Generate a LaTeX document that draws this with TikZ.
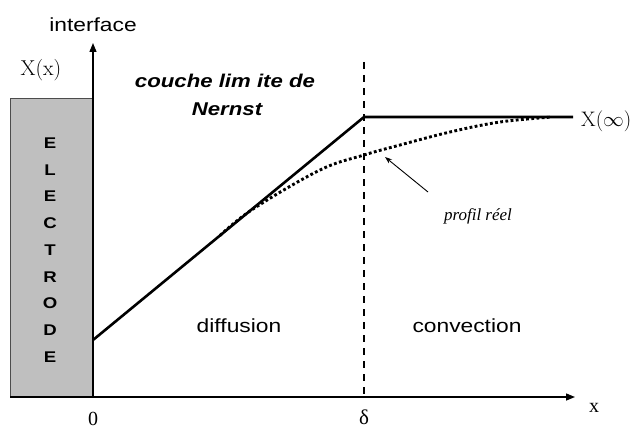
\documentclass[tikz,border=0pt]{standalone}
\usepackage{fontspec}
\usetikzlibrary{arrows.meta}
\newfontfamily\arialw[FakeStretch=1.2]{Liberation Sans}
\newfontfamily\tmsf{Liberation Serif}
\tikzset{
  axis/.style={line width=1.4pt,-{Triangle[length=9pt,width=7pt]}},
  profile/.style={line width=2.6pt},
  realprof/.style={line width=2.9pt,dash pattern=on 2.8pt off 2.4pt},
  deltaline/.style={line width=1.4pt,dash pattern=on 7pt off 6pt},
  lbl/.style={inner sep=0pt,anchor=base},
  sanslbl/.style={lbl,font=\arialw\fontsize{19}{22}\selectfont},
}
\begin{document}
\begin{tikzpicture}[x=1pt,y=-1pt]
\useasboundingbox (0,0) rectangle (637,428);
% electrode
\node[draw=black!70,line width=0.8pt,fill=black!25,minimum width=83pt,minimum height=299pt,inner sep=0pt] (elec) at (51.5,247.5) {};
\node[inner sep=0pt,align=center,font=\arialw\bfseries\fontsize{15.5}{26.75}\selectfont] (eleclbl) at (50,250) {E\\L\\E\\C\\T\\R\\O\\D\\E};
% coordinates
\coordinate (O) at (93,397);
\coordinate (Ytop) at (93,43);
\coordinate (Xl) at (10,397);
\coordinate (Xend) at (575,397);
\coordinate (A) at (93,340);
\coordinate (B) at (364,117);
\coordinate (C) at (573,117);
\coordinate (Dtop) at (364,62);
\coordinate (Dbot) at (364,397);
% axes
\draw[axis] (O) -- (Ytop);
\draw[axis] (Xl) -- (Xend);
% delta line
\draw[deltaline] (Dtop) -- (Dbot);
% model profile
\draw[profile,line join=round] (A) -- (B) -- (C);
% real profile
\draw[realprof] plot[smooth,tension=0.6] coordinates {(220,235.5) (253,209) (320,170) (364,155) (400,145) (450,132) (500,122) (552,117)};
% arrow to real profile
\coordinate (arrtail) at (428,192);
\coordinate (arrtip) at (385,157);
\draw[line width=0.9pt,-{Stealth[length=7pt,width=5pt]}] (arrtail) -- (arrtip);
% labels
\node[sanslbl] (interface) at (93,32) {interface};
\node[lbl,font=\fontsize{21.5}{24}\selectfont] (Xx) at (41,76) {X(x)};
\node[lbl,font=\fontsize{21}{24}\selectfont,anchor=base west] (Xinf) at (581,126) {X($\infty$)};
\node[lbl,font=\arialw\bfseries\itshape\fontsize{18.5}{22}\selectfont] (couche) at (225,87) {couche lim ite de};
\node[lbl,font=\arialw\bfseries\itshape\fontsize{18.5}{22}\selectfont] (nernst) at (227,115) {Nernst};
\node[sanslbl] (diff) at (239,332) {diffusion};
\node[sanslbl] (conv) at (467,332) {convection};
\node[lbl,font=\tmsf\itshape\fontsize{17}{20}\selectfont] (profil) at (478,220) {profil réel};
\node[lbl,font=\tmsf\fontsize{20}{24}\selectfont] (xlbl) at (594,412) {x};
\node[lbl,font=\tmsf\fontsize{20}{24}\selectfont] (zero) at (93,425) {0};
\node[lbl,font=\tmsf\fontsize{21}{24}\selectfont] (delta) at (364,424) {δ};
\end{tikzpicture}
\end{document}
